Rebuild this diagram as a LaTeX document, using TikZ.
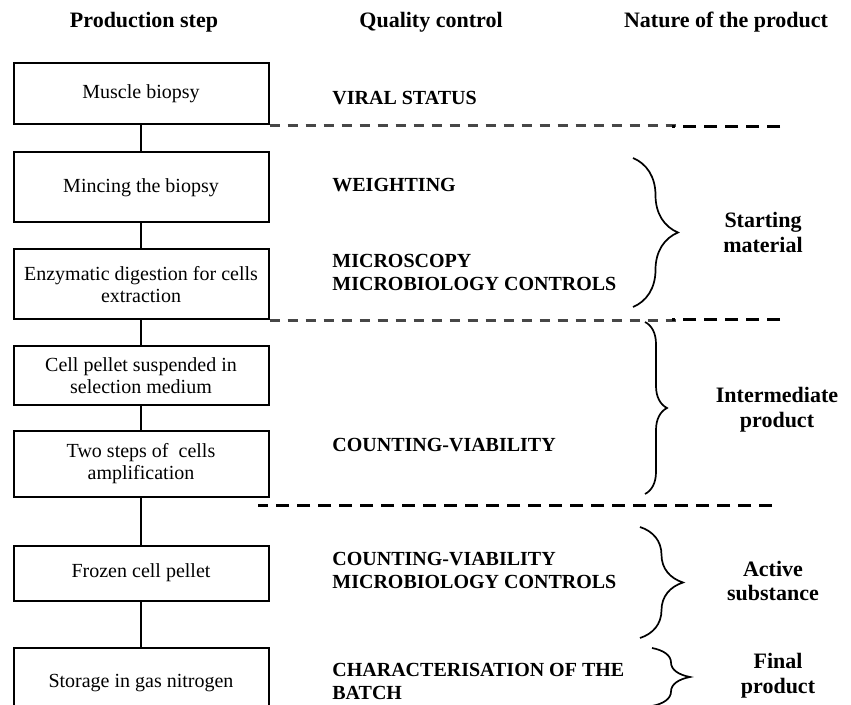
\documentclass[tikz,border=0pt]{standalone}
\usepackage{fontspec}
\setmainfont{Liberation Serif}
\usetikzlibrary{positioning, decorations.pathreplacing}

\begin{document}
\begin{tikzpicture}[x=0.5pt, y=-0.5pt,
    b/.style={rectangle, draw, line width=1pt, minimum width=127.5pt, align=center, inner sep=0pt, font=\fontsize{10}{11}\selectfont},
    hd/.style={inner sep=0pt, font=\fontsize{11}{13}\selectfont\bfseries},
    qc/.style={anchor=west, inner sep=0pt, align=left, font=\fontsize{10}{11.5}\selectfont\bfseries},
    nat/.style={align=center, inner sep=0pt, font=\fontsize{11}{12.5}\selectfont\bfseries},
    sep/.style={line width=1.5pt, dash pattern=on 6.5pt off 4pt},
    sepgray/.style={line width=1.2pt, draw=black!72, dash pattern=on 5pt off 4pt},
    br/.style={decorate, decoration={brace, amplitude=#1}, line width=0.85pt}]
\useasboundingbox (0,0) rectangle (851,705);
% column heads
\node[hd] (h1) at (144,22) {Production step};
\node[hd] (h2) at (431,22) {Quality control};
\node[hd] (h3) at (726,22) {Nature of the product};
% production steps
\node[b, minimum height=30.5pt] (bio) at (141,94) {Muscle biopsy};
\node[b, minimum height=35pt] (mince) at (141,187.5) {Mincing the biopsy};
\node[b, minimum height=35pt] (enz) at (141,284.5) {Enzymatic digestion for cells\\extraction};
\node[b, minimum height=29.5pt] (pellet) at (141,376) {Cell pellet suspended in\\selection medium};
\node[b, minimum height=32.5pt] (ampl) at (141,464) {Two steps of~ cells\\amplification};
\node[b, minimum height=27.5pt] (frozen) at (141,573) {Frozen cell pellet};
\node[b, minimum height=35pt] (store) at (141,683) {Storage in gas nitrogen};
\foreach \a/\c in {bio/mince, mince/enz, enz/pellet, pellet/ampl, ampl/frozen, frozen/store}
  \draw[line width=1pt] (\a) -- (\c);
% quality controls
\node[qc] (viral) at (332,98) {VIRAL STATUS};
\node[qc] (weigh) at (332,185) {WEIGHTING};
\node[qc] (micro) at (332,272) {MICROSCOPY\\MICROBIOLOGY CONTROLS};
\node[qc] (count) at (332,445) {COUNTING-VIABILITY};
\node[qc] (count2) at (332,570) {COUNTING-VIABILITY\\MICROBIOLOGY CONTROLS};
\node[qc] (charac) at (332,681) {CHARACTERISATION OF THE\\BATCH};
% nature of the product
\node[nat] (start) at (763,232) {Starting\\material};
\node[nat] (inter) at (777,410) {Intermediate\\product};
\node[nat] (active) at (773,581) {Active\\substance};
\node[nat] (final) at (778,676) {Final\\product};
\draw[br=22.5pt] (633,158) -- (633,307);
\draw[br=11pt] (645,322) -- (645,494);
\draw[br=21.5pt] (640,527) -- (640,638);
\draw[br=19pt] (652,648) -- (652,706);
% separators
\coordinate (e1) at (780,127);
\coordinate (e2) at (780,320);
\coordinate (e3) at (772,505);
\draw[sepgray] (bio.south east) -- ++(410,0);
\draw[sep] (e1) -- ++(-108,0);
\draw[sepgray] (enz.south east) -- ++(410,0);
\draw[sep] (e2) -- ++(-108,0);
\draw[sep] (e3) -- ++(-514,0);
\end{tikzpicture}
\end{document}
